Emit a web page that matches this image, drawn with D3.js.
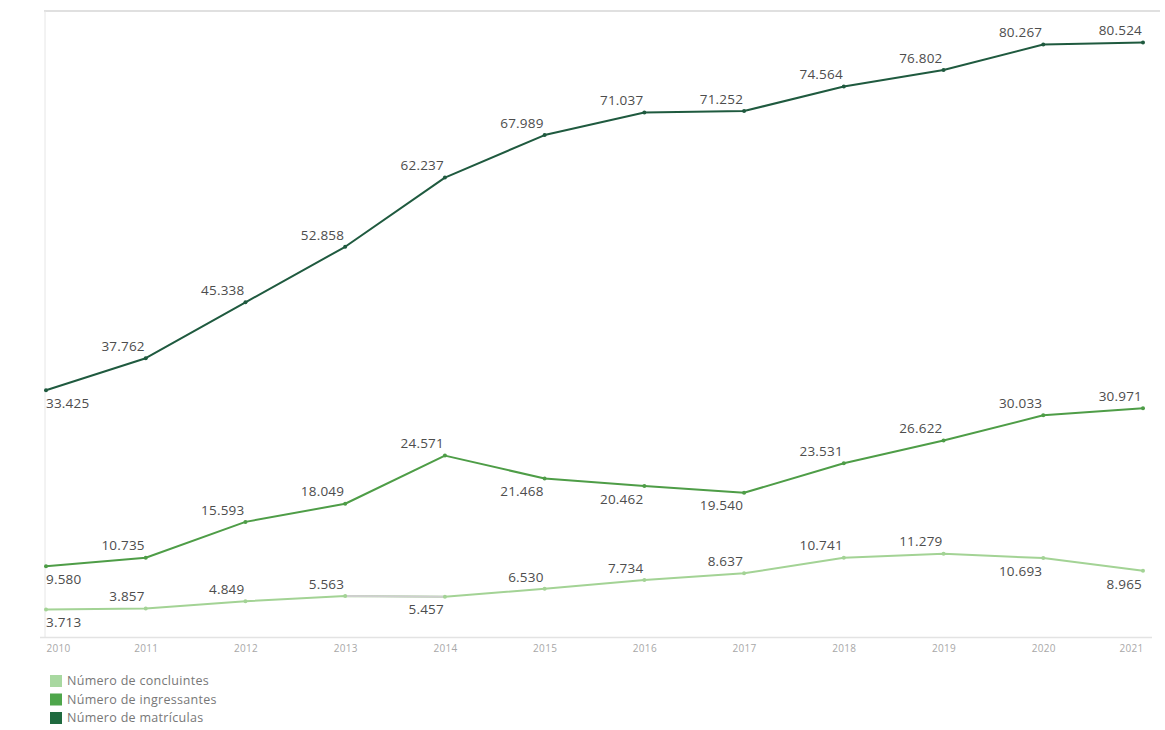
<!DOCTYPE html>
<html>
<head>
<meta charset="utf-8">
<script src="https://cdn.jsdelivr.net/npm/d3@7"></script>
<style>
  html, body { margin: 0; padding: 0; background: #fff; }
  svg { display: block; }
</style>
</head>
<body>
<svg id="chart" width="1165" height="730"></svg>
<script>
const years = ["2010","2011","2012","2013","2014","2015","2016","2017","2018","2019","2020","2021"];
const matriculas = [33425, 37762, 45338, 52858, 62237, 67989, 71037, 71252, 74564, 76802, 80267, 80524];
const ingressantes = [9580, 10735, 15593, 18049, 24571, 21468, 20462, 19540, 23531, 26622, 30033, 30971];
const concluintes = [3713, 3857, 4849, 5563, 5457, 6530, 7734, 8637, 10741, 11279, 10693, 8965];
const seriesNames = ["Número de concluintes", "Número de ingressantes", "Número de matrículas"];

(function () {
const colors = { conc: "#a3d395", ingr: "#4e9d47", matr: "#1f5a3f" };

const svg = d3.select("#chart");
const pL = 46, pR = 1143, pT = 11, pB = 637;

const x = d3.scalePoint().domain(years).range([pL, pR]);
const y = d3.scaleLinear().domain([0, 84800]).range([pB, pT]);

// frame lines
svg.append("line").attr("x1", pL - 2).attr("x2", 1160).attr("y1", pT).attr("y2", pT)
  .attr("stroke", "#d6d6d6").attr("stroke-width", 1.5);
svg.append("line").attr("x1", pL - 1).attr("x2", pL - 1).attr("y1", pT).attr("y2", pB)
  .attr("stroke", "#e6e6e6").attr("stroke-width", 1);

// x axis
const xAxis = svg.append("g").attr("transform", `translate(0,${pB})`)
  .call(d3.axisBottom(x).tickSize(0).tickPadding(8));
xAxis.select(".domain").attr("stroke", "#e3e3e3").attr("stroke-width", 1.5)
  .attr("d", `M${pL - 6},0.5H1152`);
xAxis.selectAll("text")
  .attr("font-family", "Open Sans, sans-serif").attr("font-size", 10)
  .attr("fill", "#a8a8a8").attr("letter-spacing", "0.3px")
  .attr("text-anchor", (d, i) => i === 0 ? "start" : (i === years.length - 1 ? "end" : "middle"));

const line = d3.line().x((d, i) => x(years[i])).y(d => y(d));

const groups = [
  { key: "conc", values: concluintes, below: ["2010", "2014", "2020", "2021"] },
  { key: "ingr", values: ingressantes, below: ["2010", "2015", "2016", "2017"] },
  { key: "matr", values: matriculas, below: ["2010"] }
];

const fmt = v => d3.format(",")(v).replace(/,/g, ".");

groups.forEach(g => {
  svg.append("path").datum(g.values)
    .attr("d", line).attr("fill", "none")
    .attr("stroke", colors[g.key]).attr("stroke-width", 2)
    .attr("stroke-linejoin", "round");
  if (g.key === "conc") {
    const seg = [3, 4];
    svg.append("path").datum(seg)
      .attr("d", d3.line().x(i => x(years[i])).y(i => y(g.values[i])))
      .attr("fill", "none").attr("stroke", "#cfcfcf").attr("stroke-width", 2);
  }
  svg.append("g").selectAll("circle").data(g.values).join("circle")
    .attr("cx", (d, i) => x(years[i])).attr("cy", d => y(d)).attr("r", 2)
    .attr("fill", colors[g.key]);
  svg.append("g").selectAll("text").data(g.values).join("text")
    .attr("x", (d, i) => i === 0 ? x(years[i]) : x(years[i]) - 1)
    .attr("y", (d, i) => g.below.includes(years[i]) ? y(d) + 13 : y(d) - 12)
    .attr("dy", "0.35em")
    .attr("text-anchor", (d, i) => i === 0 ? "start" : "end")
    .attr("font-family", "Open Sans, sans-serif").attr("font-size", 13.5)
    .attr("fill", "#4d4d4d").attr("letter-spacing", "0.2px")
    .text(d => fmt(d));
});

// legend
const legend = svg.append("g").attr("transform", "translate(50,681)");
const legColors = ["#a8d8a0", "#4ea64b", "#1f6a3f"];
seriesNames.forEach((n, i) => {
  const gg = legend.append("g").attr("transform", `translate(0,${i * 18.5})`);
  gg.append("rect").attr("x", 0).attr("y", -6).attr("width", 12).attr("height", 12).attr("fill", legColors[i]);
  gg.append("text").attr("x", 17).attr("y", 0).attr("dy", "0.35em")
    .attr("font-family", "Open Sans, sans-serif").attr("font-size", 12.5)
    .attr("fill", "#777").attr("letter-spacing", "0.3px").text(n);
});
})();
</script>
</body>
</html>
